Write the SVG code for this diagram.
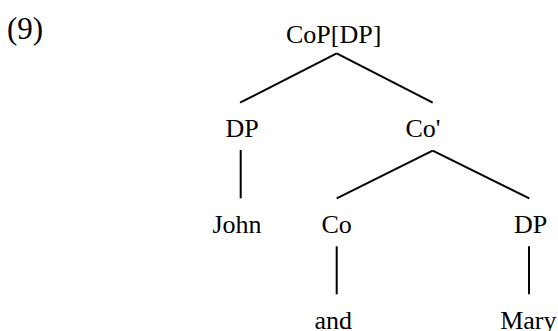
<svg xmlns="http://www.w3.org/2000/svg" width="558" height="331" viewBox="0 0 558 331">
<style>
text{font-family:"Liberation Serif","Times New Roman",serif;font-size:26px;fill:#000;text-anchor:middle}
.e{stroke:#000;stroke-width:2;fill:none;stroke-linecap:butt}
</style>
<rect width="558" height="331" fill="#fff"/>
<text x="7" y="38.5" style="text-anchor:start;font-size:31px">(9)</text>
<g id="connectors">
<line class="e" x1="336.7" y1="53.3" x2="240" y2="102.7"/>
<line class="e" x1="336.7" y1="53.3" x2="432.7" y2="102.7"/>
<line class="e" x1="240.7" y1="150" x2="240.7" y2="198.3"/>
<line class="e" x1="432.7" y1="150.7" x2="336.7" y2="198.3"/>
<line class="e" x1="432.7" y1="150.7" x2="529.3" y2="198.3"/>
<line class="e" x1="336.7" y1="246.3" x2="336.7" y2="294.3"/>
<line class="e" x1="529" y1="246.3" x2="529" y2="294.3"/>
</g>
<g id="n-cop"><text x="333.7" y="43">CoP[DP]</text></g>
<g id="n-dp1"><text x="242" y="137.3">DP</text></g>
<g id="n-cobar"><text x="423" y="137.3">Co'</text></g>
<g id="n-john"><text x="237" y="233.3">John</text></g>
<g id="n-co"><text x="336.7" y="233.3">Co</text></g>
<g id="n-dp2"><text x="530.5" y="233.3">DP</text></g>
<g id="n-and"><text x="333.3" y="329.3">and</text></g>
<g id="n-mary"><text x="528.3" y="329.3">Mary</text></g>
</svg>
